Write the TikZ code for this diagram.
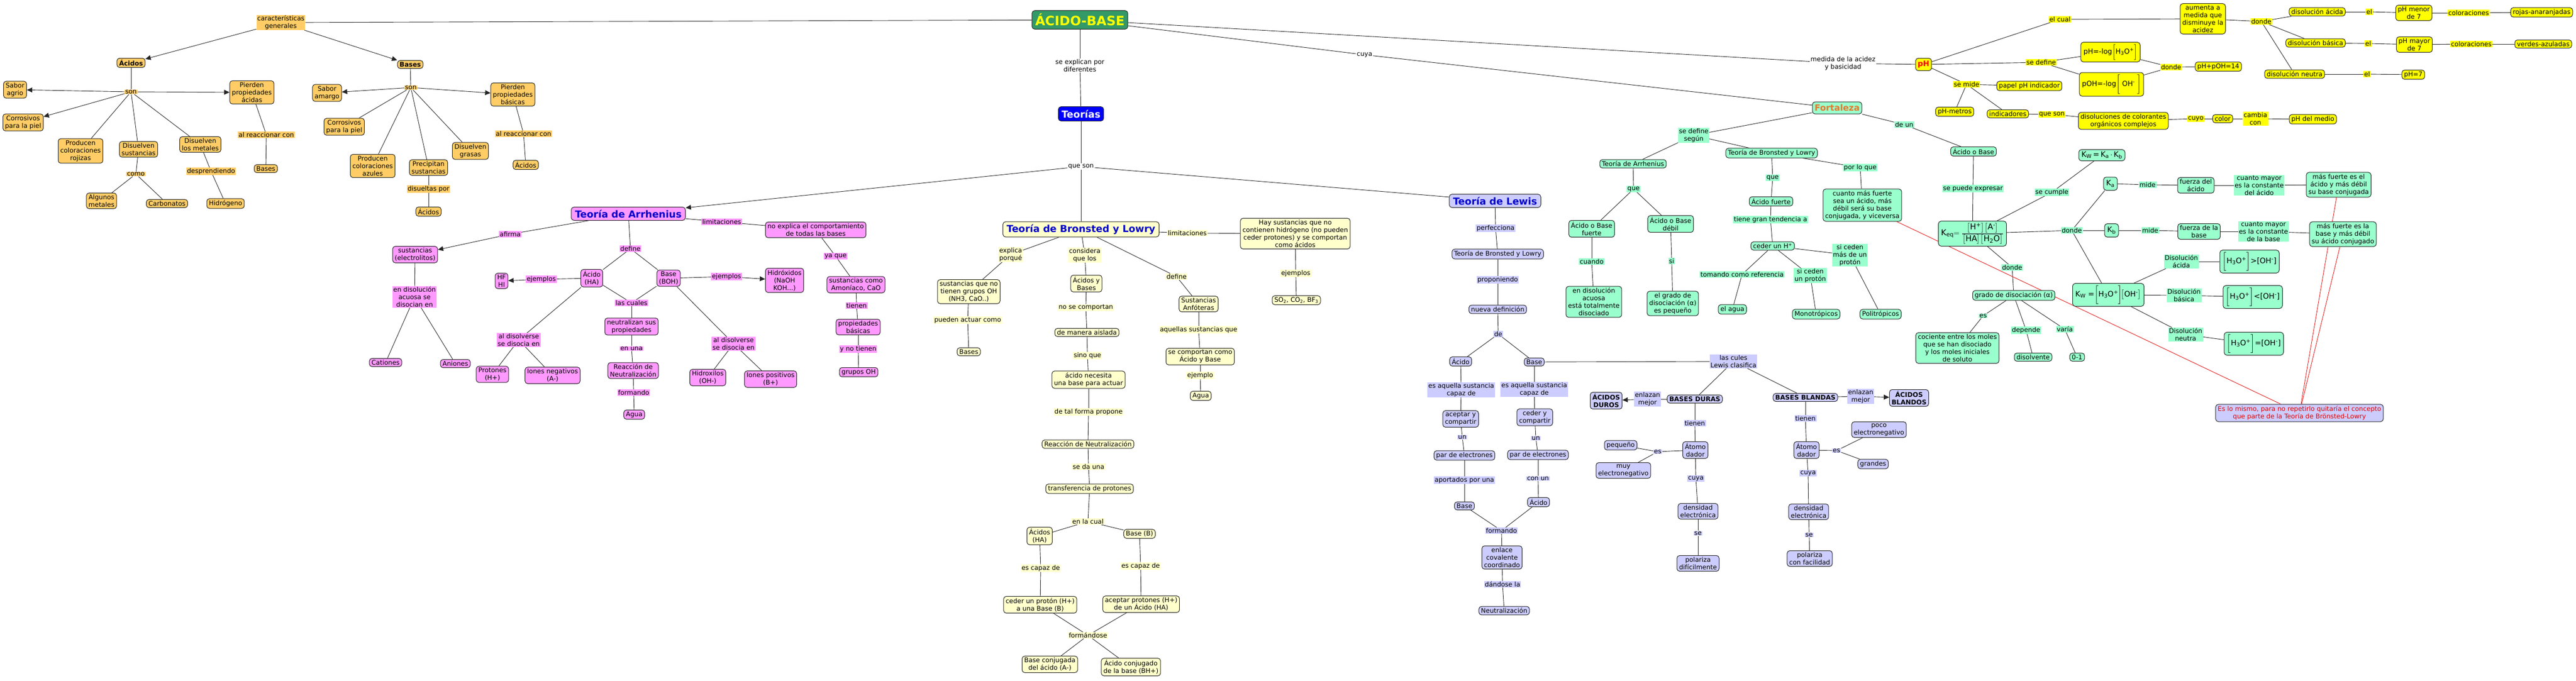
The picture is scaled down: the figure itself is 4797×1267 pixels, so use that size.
\documentclass[tikz,border=0pt]{standalone}
\usepackage{fontspec}
\setmainfont{DejaVu Sans}
\usepackage{amsmath}
\usetikzlibrary{arrows.meta,backgrounds}
\definecolor{naranja}{HTML}{FFCC66}
\definecolor{rosa}{HTML}{FF99FF}
\definecolor{crema}{HTML}{FFFFCC}
\definecolor{lila}{HTML}{CCCCFF}
\definecolor{menta}{HTML}{99FFCC}
\definecolor{amarillo}{HTML}{FFFF00}
\definecolor{verdeab}{HTML}{339966}
\definecolor{azulteo}{HTML}{0000CC}
\definecolor{naranjafort}{HTML}{E8772E}
\tikzset{
  caja/.style={draw=black!85, line width=1pt, rounded corners=5pt, align=center, inner xsep=4pt, inner ysep=3pt, font=\fontsize{12}{14}\selectfont},
  etq/.style={align=center, inner xsep=1.5pt, inner ysep=1pt, font=\fontsize{12}{14}\selectfont},
  negr/.style={font=\fontsize{12}{14}\selectfont\bfseries},
  formula/.style={font=\fontsize{14}{16}\selectfont, inner xsep=5pt, inner ysep=4pt},
  titulo/.style={font=\fontsize{18}{20}\selectfont\bfseries, text=azulteo, inner xsep=7pt, inner ysep=5pt},
  nar/.style={caja, fill=naranja}, lnar/.style={etq, fill=naranja},
  ros/.style={caja, fill=rosa}, lros/.style={etq, fill=rosa},
  cre/.style={caja, fill=crema}, lcre/.style={etq, fill=crema},
  lil/.style={caja, fill=lila}, llil/.style={etq, fill=lila},
  men/.style={caja, fill=menta}, lmen/.style={etq, fill=menta},
  ama/.style={caja, fill=amarillo}, lama/.style={etq, fill=amarillo},
  lbl/.style={etq, fill=white},
  linea/.style={draw=black!85, line width=0.9pt},
  flecha/.style={linea, -{Triangle[length=10pt,width=9pt]}},
  roja/.style={draw=red!90!black, line width=0.8pt}
}
\begin{document}
\begin{tikzpicture}[x=1pt,y=-1pt]
\useasboundingbox (0,0) rectangle (4797,1267);

\node[caja, fill=verdeab, text=amarillo, font=\fontsize{24}{26}\selectfont\bfseries, inner xsep=6pt, inner ysep=6pt] (ab) at (2011,37) {ÁCIDO-BASE};
\node[lbl] (seexp) at (2011,122) {se explican por\\diferentes};
\node[caja, fill=blue, text=white, font=\fontsize{18}{20}\selectfont\bfseries, inner xsep=6pt, inner ysep=6pt] (teorias) at (2013,212) {Teorías};
\node[lbl] (queson) at (2013,310) {que son};
\node[lbl] (cuya) at (2541,102) {cuya};
\node[lbl] (medida) at (3432,118) {medida de la acidez\\y basicidad};

\node[lnar] (cg) at (523,42) {características\\generales};
\node[nar,negr] (acidos) at (244,117) {Ácidos};
\node[nar,negr] (bases) at (764,120) {Bases};
\node[lnar] (sonA) at (244,171) {son};
\node[nar] (sabAg) at (28,167) {Sabor\\agrio};
\node[nar] (corrA) at (43,228) {Corrosivos\\para la piel};
\node[nar] (prodR) at (150,281) {Producen\\coloraciones\\rojizas};
\node[nar] (disSus) at (258,278) {Disuelven\\sustancias};
\node[nar] (disMet) at (373,269) {Disuelven\\los metales};
\node[nar] (pierA) at (469,172) {Pierden\\propiedades\\ácidas};
\node[lnar] (alreacA) at (496,251) {al reaccionar con};
\node[nar] (basesB) at (495,314) {Bases};
\node[lnar] (como) at (253,324) {como};
\node[nar] (algMet) at (189,374) {Algunos\\metales};
\node[nar] (carb) at (311,379) {Carbonatos};
\node[lnar] (desp) at (393,319) {desprendiendo};
\node[nar] (hidro) at (420,379) {Hidrógeno};
\node[lnar] (sonB) at (765,163) {son};
\node[nar] (sabAm) at (609,173) {Sabor\\amargo};
\node[nar] (pierB) at (955,176) {Pierden\\propiedades\\básicas};
\node[nar] (corrB) at (641,236) {Corrosivos\\para la piel};
\node[nar] (prodAz) at (694,309) {Producen\\coloraciones\\azules};
\node[nar] (precip) at (798,312) {Precipitan\\sustancias};
\node[nar] (disGr) at (876,281) {Disuelven\\grasas};
\node[lnar] (alreacB) at (975,249) {al reaccionar con};
\node[nar] (acB) at (979,307) {Ácidos};
\node[lnar] (disuel) at (798,352) {disueltas por};
\node[nar] (acP) at (798,394) {Ácidos};

\node[ros,titulo] (arr) at (1170,398) {Teoría de Arrhenius};
\node[lros] (afirma) at (950,436) {afirma};
\node[ros] (electr) at (773,474) {sustancias\\(electrolitos)};
\node[lros] (endis) at (772,553) {en disolución\\acuosa se\\disocian en};
\node[ros] (cat) at (718,675) {Cationes};
\node[ros] (ani) at (848,677) {Aniones};
\node[lros] (limA) at (1344,413) {limitaciones};
\node[ros] (noexp) at (1519,428) {no explica el comportamiento\\de todas las bases};
\node[lros] (yaque) at (1556,477) {ya que};
\node[ros] (amon) at (1594,530) {sustancias como\\Amoníaco, CaO};
\node[lros] (tienenA) at (1595,569) {tienen};
\node[ros] (propB) at (1598,609) {propiedades\\básicas};
\node[lros] (ynot) at (1598,650) {y no tienen};
\node[ros] (gOH) at (1599,693) {grupos OH};
\node[lros] (defA) at (1174,463) {define};
\node[ros] (acHA) at (1102,518) {Ácido\\(HA)};
\node[ros] (baBOH) at (1245,518) {Base\\(BOH)};
\node[lros] (ejA) at (1008,520) {ejemplos};
\node[ros] (hfhi) at (934,523) {HF\\HI};
\node[lros] (ejB) at (1353,515) {ejemplos};
\node[ros] (hidrox) at (1461,522) {Hidróxidos\\(NaOH\\KOH...)};
\node[lros] (lascuales) at (1176,564) {las cuales};
\node[ros] (neutr) at (1176,608) {neutralizan sus\\propiedades};
\node[lros] (enuna) at (1176,649) {en una};
\node[ros] (reacA) at (1179,690) {Reacción de\\Neutralización};
\node[lros] (formA) at (1180,731) {formando};
\node[ros] (aguaA) at (1181,772) {Agua};
\node[lros] (aldisA) at (966,633) {al disolverse\\se disocia en};
\node[ros] (prot) at (917,697) {Protones\\(H+)};
\node[ros] (ineg) at (1029,699) {Iones negativos\\(A-)};
\node[lros] (aldisB) at (1366,640) {al disolverse\\se disocia en};
\node[ros] (hidroxil) at (1318,703) {Hidroxilos\\(OH-)};
\node[ros] (ipos) at (1435,706) {Iones positivos\\(B+)};

\node[cre,titulo] (bl) at (2013,427) {Teoría de Bronsted y Lowry};
\node[lcre] (limB) at (2211,434) {limitaciones};
\node[cre] (haysus) at (2412,435) {Hay sustancias que no\\contienen hidrógeno (no pueden\\ceder protones) y se comportan\\como ácidos};
\node[lcre] (ejB1) at (2413,509) {ejemplos};
\node[cre] (so2) at (2414,559) {SO\textsubscript{2}, CO\textsubscript{2}, BF\textsubscript{3}};
\node[lcre] (expl) at (1882,474) {explica\\porqué};
\node[cre] (sinOH) at (1804,543) {sustancias que no\\tienen grupos OH\\(NH3, CaO..)};
\node[lcre] (pueden) at (1802,596) {pueden actuar como};
\node[cre] (basesBL) at (1804,655) {Bases};
\node[lcre] (consid) at (2020,475) {considera\\que los};
\node[cre] (acyb) at (2023,528) {Ácidos y\\Bases};
\node[lcre] (nosecomp) at (2022,573) {no se comportan};
\node[cre] (aisl) at (2024,619) {de manera aislada};
\node[lcre] (sinoque) at (2025,662) {sino que};
\node[cre] (necesita) at (2027,707) {ácido necesita\\una base para actuar};
\node[lcre] (detal) at (2027,767) {de tal forma propone};
\node[cre] (reacB) at (2026,827) {Reacción de Neutralización};
\node[lcre] (seda) at (2027,869) {se da una};
\node[cre] (transf) at (2029,910) {transferencia de protones};
\node[lcre] (enlacual) at (2026,971) {en la cual};
\node[cre] (acHAb) at (1936,998) {Ácidos\\(HA)};
\node[cre] (baseB) at (2122,994) {Base (B)};
\node[lcre] (capA) at (1938,1058) {es capaz de};
\node[lcre] (capB) at (2124,1054) {es capaz de};
\node[cre] (ceder) at (1937,1126) {ceder un protón (H+)\\a una Base (B)};
\node[cre] (aceptar) at (2125,1125) {aceptar protones (H+)\\de un Ácido (HA)};
\node[lcre] (formandose) at (2026,1183) {formándose};
\node[cre] (baseconj) at (1955,1237) {Base conjugada\\del ácido (A-)};
\node[cre] (acconj) at (2106,1242) {Ácido conjugado\\de la base (BH+)};
\node[lcre] (defB) at (2191,515) {define};
\node[cre] (anfo) at (2232,566) {Sustancias\\Anfóteras};
\node[lcre] (aquellas) at (2232,614) {aquellas sustancias que};
\node[cre] (secomp) at (2235,664) {se comportan como\\Ácido y Base};
\node[lcre] (ejemplo) at (2235,699) {ejemplo};
\node[cre] (aguaB) at (2236,737) {Agua};

\node[lil,titulo] (lw) at (2784,374) {Teoría de Lewis};
\node[llil] (perf) at (2785,425) {perfecciona};
\node[lil] (blL) at (2789,473) {Teoría de Bronsted y Lowry};
\node[llil] (prop) at (2789,521) {proponiendo};
\node[lil] (nueva) at (2789,576) {nueva definición};
\node[llil] (deL) at (2790,622) {de};
\node[lil] (acL) at (2720,673) {Ácido};
\node[lil] (baL) at (2857,674) {Base};
\node[llil] (esaqA) at (2721,726) {es aquella sustancia\\capaz de};
\node[llil] (esaqB) at (2857,725) {es aquella sustancia\\capaz de};
\node[lil] (acept) at (2720,780) {aceptar y\\compartir};
\node[lil] (cedyc) at (2858,777) {ceder y\\compartir};
\node[llil] (unA) at (2723,814) {un};
\node[llil] (unB) at (2860,816) {un};
\node[lil] (parA) at (2727,848) {par de electrones};
\node[lil] (parB) at (2864,847) {par de electrones};
\node[llil] (aport) at (2727,894) {aportados por una};
\node[llil] (conun) at (2864,891) {con un};
\node[lil] (baL2) at (2727,942) {Base};
\node[lil] (acL2) at (2865,935) {Ácido};
\node[llil] (formL) at (2796,988) {formando};
\node[lil] (enlace) at (2797,1038) {enlace\\covalente\\coordinado};
\node[llil] (dandose) at (2798,1088) {dándose la};
\node[lil] (neutL) at (2801,1137) {Neutralización};
\node[llil] (cules) at (3228,673) {las cules\\Lewis clasifica};
\node[lil,negr] (acdur) at (2991,746) {ÁCIDOS\\DUROS};
\node[llil] (enlD) at (3068,743) {enlazan\\mejor};
\node[lil,negr] (basdur) at (3156,743) {BASES DURAS};
\node[llil] (tienD) at (3156,788) {tienen};
\node[lil] (atD) at (3157,838) {Átomo\\dador};
\node[llil] (esD) at (3087,841) {es};
\node[lil] (peq) at (3018,829) {pequeño};
\node[lil] (muyel) at (3023,876) {muy\\electronegativo};
\node[llil] (cuyaD) at (3158,891) {cuya};
\node[lil] (densD) at (3162,952) {densidad\\electrónica};
\node[llil] (seD) at (3162,993) {se};
\node[lil] (polD) at (3162,1049) {polariza\\difícilmente};
\node[lil,negr] (basbl) at (3362,740) {BASES BLANDAS};
\node[llil] (enlB) at (3465,738) {enlazan\\mejor};
\node[lil,negr] (acbl) at (3555,741) {ÁCIDOS\\BLANDOS};
\node[llil] (tienB) at (3362,779) {tienen};
\node[lil] (atB) at (3364,838) {Átomo\\dador};
\node[llil] (esB) at (3420,839) {es};
\node[lil] (poco) at (3499,800) {poco\\electronegativo};
\node[lil] (grandes) at (3488,864) {grandes};
\node[llil] (cuyaB) at (3367,881) {cuya};
\node[lil] (densB) at (3368,953) {densidad\\electrónica};
\node[llil] (seB) at (3369,996) {se};
\node[lil] (polB) at (3370,1040) {polariza\\con facilidad};

\node[men, text=naranjafort, font=\fontsize{16}{18}\selectfont\bfseries, inner ysep=5pt] (fort) at (3421,201) {Fortaleza};
\node[lmen] (sedef) at (3154,252) {se define\\según};
\node[men] (arrG) at (3041,305) {Teoría de Arrhenius};
\node[men] (blG) at (3299,285) {Teoría de Bronsted y Lowry};
\node[lmen] (deun) at (3546,232) {de un};
\node[men] (aob) at (3675,282) {Ácido o Base};
\node[lmen] (queArr) at (3042,352) {que};
\node[men] (fuerte) at (2964,426) {Ácido o Base\\fuerte};
\node[men] (debil) at (3111,417) {Ácido o Base\\débil};
\node[lmen] (cuando) at (2964,487) {cuando};
\node[men] (endisG) at (2968,562) {en disolución\\acuosa\\está totalmente\\disociado};
\node[lmen] (siG) at (3113,486) {si};
\node[men] (grado1) at (3115,565) {el grado de\\disociación (α)\\es pequeño};
\node[lmen] (queBL) at (3301,331) {que};
\node[men] (acfuerte) at (3298,375) {Ácido fuerte};
\node[lmen] (tiene) at (3297,409) {tiene gran tendencia a};
\node[men] (cederH) at (3301,458) {ceder un H\textsuperscript{+}};
\node[lmen] (porlo) at (3464,312) {por lo que};
\node[men] (cuanto) at (3468,382) {cuanto más fuerte\\sea un ácido, más\\débil será su base\\conjugada, y viceversa};
\node[lmen] (tomando) at (3244,511) {tomando como referencia};
\node[lmen] (sicedun) at (3371,513) {si ceden\\un protón};
\node[lmen] (sicedmas) at (3445,475) {si ceden\\más de un\\protón};
\node[men] (elagua) at (3226,576) {el agua};
\node[men] (mono) at (3382,585) {Monotrópicos};
\node[men] (poli) at (3502,585) {Politrópicos};
\node[lmen] (sepuede) at (3674,351) {se puede expresar};
\node[men,formula,font=\fontsize{15}{17}\selectfont] (keq) at (3673,435) {K\textsubscript{eq}$=\dfrac{\bigl[\mbox{H\textsuperscript{+}}\bigr]\bigl[\mbox{A\textsuperscript{-}}\bigr]}{\bigl[\mbox{HA}\bigr]\bigl[\mbox{H\textsubscript{2}O}\bigr]}$};
\node[lmen] (secumple) at (3821,358) {se cumple};
\node[men,formula] (kwab) at (3914,289) {K\textsubscript{W}\,=\,K\textsubscript{a}\,$\cdot$\,K\textsubscript{b}};
\node[men,formula,inner ysep=6pt] (ka) at (3930,342) {K\textsubscript{a}};
\node[men,formula,inner ysep=6pt] (kb) at (3932,429) {K\textsubscript{b}};
\node[lmen] (dondeK) at (3858,429) {donde};
\node[men,formula] (kw) at (3926,549) {K\textsubscript{W} =$\biggl[$H\textsubscript{3}O\textsuperscript{+}$\biggr]\!\bigl[$OH\textsuperscript{-}$\bigr]$};
\node[lmen] (mideA) at (3999,344) {mide};
\node[men] (fzA) at (4089,345) {fuerza del\\ácido};
\node[lmen] (cmA) at (4207,345) {cuanto mayor\\es la constante\\del ácido};
\node[men] (mfA) at (4355,344) {más fuerte es el\\ácido y más débil\\su base conjugada};
\node[lmen] (mideB) at (4004,429) {mide};
\node[men] (fzB) at (4095,431) {fuerza de la\\base};
\node[lmen] (cmB) at (4215,431) {cuanto mayor\\es la constante\\de la base};
\node[men] (mfB) at (4363,436) {más fuerte es la\\base y más débil\\su ácido conjugado};
\node[lmen] (dac) at (4062,487) {Disolución\\ácida};
\node[men,formula] (hac) at (4189,487) {$\biggl[$H\textsubscript{3}O\textsuperscript{+}$\biggr]$>[OH\textsuperscript{-}]};
\node[lmen] (dbas) at (4067,550) {Disolución\\básica};
\node[men,formula] (hbas) at (4195,553) {$\biggl[$H\textsubscript{3}O\textsuperscript{+}$\biggr]$<[OH\textsuperscript{-}]};
\node[lmen] (dneu) at (4070,623) {Disolución\\neutra};
\node[men,formula] (hneu) at (4197,640) {$\biggl[$H\textsubscript{3}O\textsuperscript{+}$\biggr]$=[OH\textsuperscript{-}]};
\node[lmen] (dondeG) at (3747,498) {donde};
\node[men] (grado) at (3750,550) {grado de disociación (α)};
\node[lmen] (esG) at (3693,588) {es};
\node[men] (cociente) at (3645,648) {cociente entre los moles\\que se han disociado\\y los moles iniciales\\de soluto};
\node[lmen] (depende) at (3773,615) {depende};
\node[men] (disolv) at (3786,665) {disolvente};
\node[lmen] (varia) at (3845,613) {varía};
\node[men] (cerouno) at (3868,665) {0-1};
\node[lil, text=red!90!black] (eslo) at (4282,769) {Es lo mismo, para no repetirlo quitaría el concepto\\que parte de la Teoría de Brönsted-Lowry};

\node[ama, text=red, font=\fontsize{14}{16}\selectfont\bfseries, inner ysep=5pt] (ph) at (3582,120) {pH};
\node[lama] (elcual) at (3836,36) {el cual};
\node[ama] (aumenta) at (4102,35) {aumenta a\\medida que\\disminuye la\\acidez};
\node[lama] (dondeP) at (4211,40) {donde};
\node[ama] (dac2) at (4315,22) {disolución ácida};
\node[lama] (el1) at (4412,22) {el};
\node[ama] (phm) at (4495,24) {pH menor\\de 7};
\node[lama] (col1) at (4597,24) {coloraciones};
\node[ama] (rojas) at (4733,23) {rojas-anaranjadas};
\node[ama] (dbas2) at (4312,80) {disolución básica};
\node[lama] (el2) at (4410,81) {el};
\node[ama] (phM) at (4496,83) {pH mayor\\de 7};
\node[lama] (col2) at (4602,82) {coloraciones};
\node[ama] (verdes) at (4736,82) {verdes-azuladas};
\node[ama] (dneu2) at (4273,138) {disolución neutra};
\node[lama] (el3) at (4408,138) {el};
\node[ama] (ph7) at (4494,139) {pH=7};
\node[lama] (sedefP) at (3801,116) {se define};
\node[ama,formula,font=\fontsize{13}{15}\selectfont] (phlog) at (3930,97) {pH=-log$\biggl[$H\textsubscript{3}O\textsuperscript{+}$\biggr]$};
\node[ama,formula,font=\fontsize{13}{15}\selectfont] (pohlog) at (3932,157) {pOH=-log$\Biggl[$ OH\textsuperscript{-} $\Biggr]$};
\node[lama] (dondeP2) at (4043,125) {donde};
\node[ama] (phpoh) at (4131,124) {pH+pOH=14};
\node[lama] (semide) at (3662,157) {se mide};
\node[ama] (papel) at (3779,160) {papel pH indicador};
\node[ama] (phmet) at (3640,208) {pH-metros};
\node[ama] (indic) at (3739,212) {indicadores};
\node[lama] (queson2) at (3821,213) {que son};
\node[ama] (disol) at (3954,225) {disoluciones de colorantes\\orgánicos complejos};
\node[lama] (cuyo) at (4089,221) {cuyo};
\node[ama] (colorN) at (4139,221) {color};
\node[lama] (cambia) at (4200,221) {cambia\\con};
\node[ama] (phmedio) at (4307,222) {pH del medio};

\begin{pgfonlayer}{background}
\fill[white] (0,0) rectangle (4797,1267);
\foreach \a/\b in {ab/cg, ab/seexp, seexp/teorias, teorias/queson, queson/bl, queson/lw, ab/cuya, cuya/fort, ab/medida, medida/ph,
  acidos/sonA, sonA/prodR, sonA/disSus, sonA/disMet, disSus/como, como/algMet, como/carb, disMet/desp, desp/hidro, pierA/alreacA, alreacA/basesB,
  bases/sonB, sonB/corrB, sonB/prodAz, sonB/precip, sonB/disGr, pierB/alreacB, alreacB/acB, precip/disuel, disuel/acP,
  arr/afirma, electr/endis, endis/cat, endis/ani, arr/limA, limA/noexp, noexp/yaque, yaque/amon, amon/tienenA, tienenA/propB, propB/ynot, ynot/gOH,
  arr/defA, defA/acHA, defA/baBOH, acHA/ejA, baBOH/ejB, acHA/lascuales, baBOH/lascuales, lascuales/neutr, neutr/enuna, enuna/reacA, reacA/formA, formA/aguaA,
  acHA/aldisA, aldisA/prot, aldisA/ineg, baBOH/aldisB, aldisB/hidroxil, aldisB/ipos,
  bl/limB, limB/haysus, haysus/ejB1, ejB1/so2, bl/expl, expl/sinOH, sinOH/pueden, pueden/basesBL,
  bl/consid, consid/acyb, acyb/nosecomp, nosecomp/aisl, aisl/sinoque, sinoque/necesita, necesita/detal, detal/reacB, reacB/seda, seda/transf, transf/enlacual, enlacual/acHAb, enlacual/baseB,
  acHAb/capA, capA/ceder, baseB/capB, capB/aceptar, ceder/formandose, aceptar/formandose, formandose/baseconj, formandose/acconj,
  bl/defB, defB/anfo, anfo/aquellas, aquellas/secomp, secomp/ejemplo, ejemplo/aguaB,
  lw/perf, perf/blL, blL/prop, prop/nueva, nueva/deL, deL/acL, deL/baL, acL/esaqA, esaqA/acept, acept/unA, unA/parA, parA/aport, aport/baL2,
  baL/esaqB, esaqB/cedyc, cedyc/unB, unB/parB, parB/conun, conun/acL2, baL2/formL, acL2/formL, formL/enlace, enlace/dandose, dandose/neutL,
  baL/cules, cules/basdur, cules/basbl, basdur/enlD, basbl/enlB, basdur/tienD, tienD/atD, atD/esD, esD/peq, esD/muyel, atD/cuyaD, cuyaD/densD, densD/seD, seD/polD,
  basbl/tienB, tienB/atB, atB/esB, esB/poco, esB/grandes, atB/cuyaB, cuyaB/densB, densB/seB, seB/polB,
  fort/sedef, sedef/arrG, sedef/blG, fort/deun, deun/aob, aob/sepuede, sepuede/keq,
  arrG/queArr, queArr/fuerte, queArr/debil, fuerte/cuando, cuando/endisG, debil/siG, siG/grado1,
  blG/queBL, queBL/acfuerte, acfuerte/tiene, tiene/cederH, cederH/tomando, tomando/elagua, cederH/sicedun, sicedun/mono, cederH/sicedmas, sicedmas/poli, blG/porlo, porlo/cuanto,
  keq/secumple, secumple/kwab, keq/dondeK, dondeK/ka, dondeK/kb, dondeK/kw, ka/mideA, mideA/fzA, fzA/cmA, cmA/mfA, kb/mideB, mideB/fzB, fzB/cmB, cmB/mfB,
  kw/dac, dac/hac, kw/dbas, dbas/hbas, kw/dneu, dneu/hneu, keq/dondeG, dondeG/grado, grado/esG, esG/cociente, grado/depende, depende/disolv, grado/varia, varia/cerouno,
  ph/elcual, elcual/aumenta, aumenta/dondeP, dondeP/dac2, dondeP/dbas2, dondeP/dneu2, dac2/el1, el1/phm, phm/col1, col1/rojas, dbas2/el2, el2/phM, phM/col2, col2/verdes, dneu2/el3, el3/ph7,
  ph/sedefP, sedefP/phlog, sedefP/pohlog, phlog/dondeP2, pohlog/dondeP2, dondeP2/phpoh, ph/semide, semide/papel, semide/phmet, semide/indic,
  indic/queson2, queson2/disol, disol/cuyo, cuyo/colorN, colorN/cambia, cambia/phmedio}
  \draw[linea] (\a) -- (\b);
\foreach \a/\b in {queson/arr, cg/acidos, cg/bases, sonA/sabAg, sonA/corrA, sonA/pierA, sonB/sabAm, sonB/pierB, afirma/electr, ejA/hfhi, ejB/hidrox, enlD/acdur, enlB/acbl}
  \draw[flecha] (\a) -- (\b);
\foreach \a in {cuanto, mfA, mfB}
  \draw[roja] (\a) -- (eslo);
\end{pgfonlayer}
\end{tikzpicture}
\end{document}
